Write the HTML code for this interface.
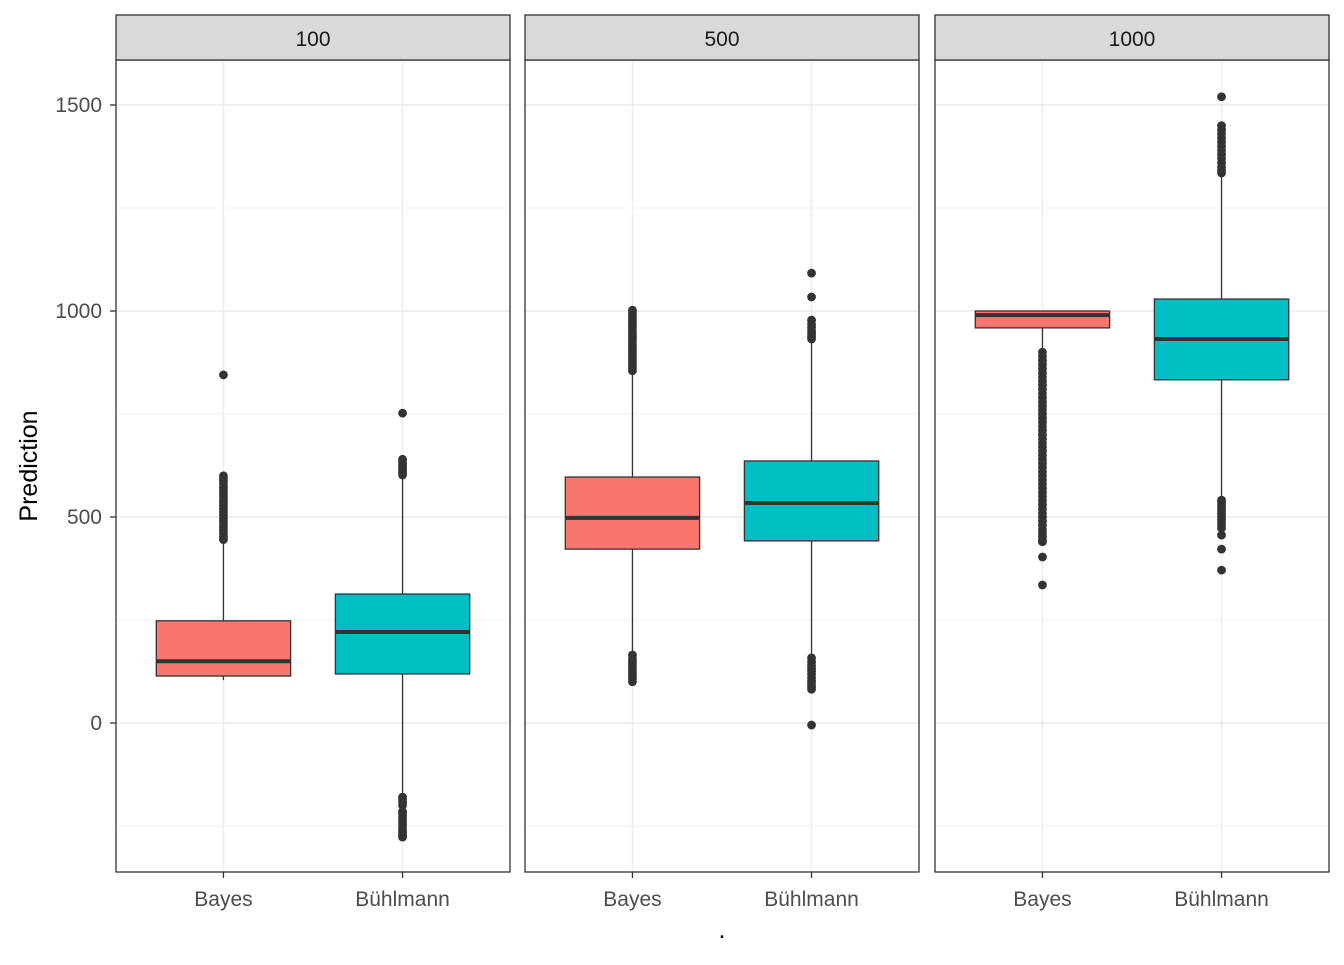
<!DOCTYPE html>
<html><head><meta charset="utf-8"><style>
body{margin:0;background:#fff;font-family:"Liberation Sans",Arial,sans-serif}
</style></head><body>
<svg id="chart" width="1344" height="960" xmlns="http://www.w3.org/2000/svg" font-family="Liberation Sans, Arial, sans-serif"></svg>
<script>
const panels = ["100","500","1000"];
const categories = ["Bayes","Bühlmann"];
const yTicks = [0,500,1000,1500];
const yMinor = [-250,250,750,1250];
// [lowWhisker, q1, median, q3, highWhisker] per panel per category
const stats100 = [[104,114,150,248,440],[-175,119,221,313,600]];
const stats500 = [[165,422,498,597,852],[160,442,534,636,930]];
const stats1000 = [[900,959,990,1000,1000],[541,833,932,1029,1330]];
const out100 = [[445,452,460,468,475,482,490,497,505,512,520,528,535,542,550,557,565,572,580,588,595,600,845],[-180,-186,-193,-200,-215,-222,-230,-238,-245,-252,-260,-266,-272,-277,602,608,614,620,627,633,640,752]];
const out500 = [[855,862,869,876,883,890,897,904,911,918,925,932,939,946,953,960,967,974,981,988,995,1002,100,107,114,121,128,135,142,149,156,165],[932,938,945,952,960,968,978,1034,1092,82,88,95,102,110,118,125,133,140,148,158,-5]];
const out1000 = [[900,890,880,870,860,850,840,830,820,810,800,790,780,770,760,750,740,730,720,710,700,690,680,670,660,650,640,630,620,610,600,590,580,570,560,550,540,530,520,510,500,490,480,470,460,452,444,440,403,335],[1335,1342,1350,1360,1370,1380,1390,1400,1410,1420,1430,1440,1450,1520,473,480,487,494,501,508,515,522,530,537,541,456,422,371]];
const allStats = [stats100, stats500, stats1000];
const allOut = [out100, out500, out1000];
const colors = ["#F8766D","#00BFC4"];

const svg = document.getElementById('chart');
const NS = "http://www.w3.org/2000/svg";
function mk(tag, attrs, parent){const e=document.createElementNS(NS,tag);for(const k in attrs)e.setAttribute(k,attrs[k]);(parent||svg).appendChild(e);return e;}
const panelX = [116,525,935], panelW = 394, pTop = 60, pBottom = 872;
const yS = v => 723 - v*0.412;
const xc = (p,i) => panelX[p] + panelW*(0.6+i)/2.2;
const bw = panelW*0.75/2.2;

panels.forEach((name,p)=>{
  const g = mk('g',{});
  
  
  yMinor.forEach(v=>mk('line',{x1:panelX[p],x2:panelX[p]+panelW,y1:yS(v),y2:yS(v),stroke:'#f0f0f0','stroke-width':1},g));
  yTicks.forEach(v=>mk('line',{x1:panelX[p],x2:panelX[p]+panelW,y1:yS(v),y2:yS(v),stroke:'#ebebeb','stroke-width':1.4},g));
  categories.forEach((c,i)=>mk('line',{x1:xc(p,i),x2:xc(p,i),y1:pTop,y2:pBottom,stroke:'#ebebeb','stroke-width':1.4},g));
  categories.forEach((c,i)=>{
    const s = allStats[p][i], cx = xc(p,i);
    const b = mk('g',{},g);
    
    
    mk('line',{x1:cx,x2:cx,y1:yS(s[0]),y2:yS(s[1]),stroke:'#333','stroke-width':1.3},b);
    mk('line',{x1:cx,x2:cx,y1:yS(s[3]),y2:yS(s[4]),stroke:'#333','stroke-width':1.3},b);
    allOut[p][i].forEach(v=>mk('circle',{cx:cx,cy:yS(v),r:4.4,fill:'#333'},b));
    mk('rect',{x:cx-bw/2,y:yS(s[3]),width:bw,height:yS(s[1])-yS(s[3]),fill:colors[i],stroke:'#333','stroke-width':1.3},b);
    mk('line',{x1:cx-bw/2,x2:cx+bw/2,y1:yS(s[2]),y2:yS(s[2]),stroke:'#333','stroke-width':4},b);
    mk('line',{x1:cx,x2:cx,y1:pBottom,y2:pBottom+6,stroke:'#333','stroke-width':1.3},g);
    const t = mk('text',{x:cx,y:906,'text-anchor':'middle','font-size':21,fill:'#4d4d4d'},g);
    t.textContent = c;
    
    
  });
  mk('rect',{x:panelX[p],y:pTop,width:panelW,height:pBottom-pTop,fill:'none',stroke:'#333','stroke-width':1.3},g);
  const st = mk('rect',{x:panelX[p],y:15,width:panelW,height:45,fill:'#d9d9d9',stroke:'#333','stroke-width':1.3},g);
  
  
  const tt = mk('text',{x:panelX[p]+panelW/2,y:46,'text-anchor':'middle','font-size':21,fill:'#1a1a1a'},g);
  tt.textContent = name;
  
  
});
yTicks.forEach(v=>{
  mk('line',{x1:110,x2:116,y1:yS(v),y2:yS(v),stroke:'#333','stroke-width':1.3});
  const t = mk('text',{x:102,y:yS(v)+7,'text-anchor':'end','font-size':21,fill:'#4d4d4d'});
  t.textContent = v;
  
  
});
const yt = mk('text',{x:0,y:0,transform:'translate(37,466) rotate(-90)','text-anchor':'middle','font-size':25,fill:'#000'});
yt.textContent = 'Prediction';


const xt = mk('text',{x:722,y:938,'text-anchor':'middle','font-size':25,fill:'#000'});
xt.textContent = '.';


</script>
</body></html>
